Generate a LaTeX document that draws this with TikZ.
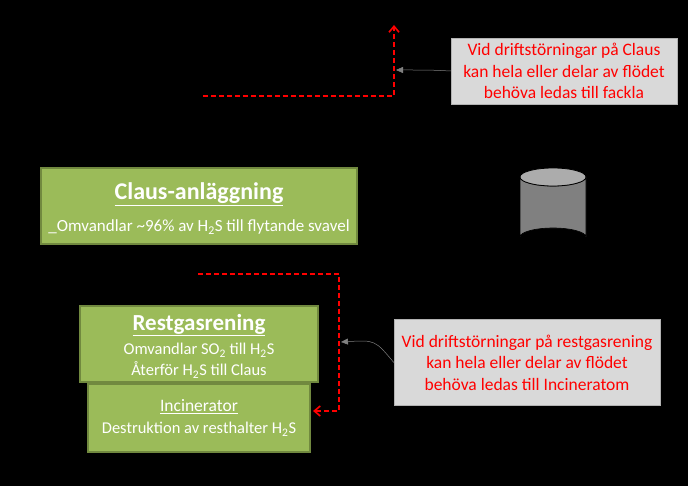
\documentclass[tikz,border=0pt]{standalone}
\usepackage{fontspec}
\setmainfont{Carlito}
\usetikzlibrary{arrows.meta,shapes.geometric}
\definecolor{gbox}{HTML}{9BBB59}
\definecolor{gedge}{HTML}{71893F}
\definecolor{callgray}{HTML}{D9D9D9}
\definecolor{cylg}{HTML}{808080}
\begin{document}
\begin{tikzpicture}[x=1pt,y=-1pt,
  gbox/.style={draw=gedge,line width=2pt,fill=gbox,text=white,align=center,inner sep=0pt},
  callout/.style={draw=gray!60,fill=callgray,text=red,align=center,font=\fontsize{17.5}{21.5}\selectfont,inner sep=0pt},
  reddash/.style={red,line width=1.6pt,dash pattern=on 5pt off 3pt},
  pointer/.style={gray,line width=0.5pt,-{Triangle[length=7pt,width=6pt]}}]
\fill[black] (0,0) rectangle (688,486);
\useasboundingbox (0,0) rectangle (688,486);
\node[gbox,minimum width=316pt,minimum height=76pt] (claus) at (199,206.5) {};
\node[text=white,font=\fontsize{24}{28}\selectfont\bfseries] (clausT) at (199,194) {\underline{Claus-anläggning}};
\node[text=white,font=\fontsize{17}{20}\selectfont] (clausS) at (199,227) {\_Omvandlar \textasciitilde96\% av H\textsubscript{2}S till flytande svavel};
\node[gbox,minimum width=238pt,minimum height=76pt] (rest) at (199,344) {};
\node[text=white,font=\fontsize{23}{27}\selectfont\bfseries] (restT) at (199,325) {\underline{Restgasrening}};
\node[text=white,font=\fontsize{16.5}{21}\selectfont,align=center] (restS) at (199,361) {Omvandlar SO\textsubscript{2} till H\textsubscript{2}S\\Återför H\textsubscript{2}S till Claus};
\node[gbox,minimum width=222pt,minimum height=68pt] (inc) at (199,418) {};
\node[text=white,font=\fontsize{17.5}{21}\selectfont,align=center] (incS) at (199,418) {\underline{Incinerator}\\[1pt]{\fontsize{16.5}{20}\selectfont Destruktion av resthalter H\textsubscript{2}S}};
\coordinate (cyl) at (553,206);
\fill[cylg,draw=black,line width=0.6pt] (520,177) -- (520,237) arc[start angle=180,end angle=360,x radius=33,y radius=9] -- (586,177) arc[start angle=0,end angle=180,x radius=33,y radius=9];
\fill[gray!65,draw=black,line width=0.8pt] (553,177) ellipse[x radius=33,y radius=9];
\node[callout,minimum width=226pt,minimum height=66pt] (c1) at (564,71) {Vid driftstörningar på Claus\\kan hela eller delar av flödet\\behöva ledas till fackla};
\node[callout,minimum width=266pt,minimum height=86pt] (c2) at (527,362.5) {Vid driftstörningar på restgasrening\\kan hela eller delar av flödet\\behöva ledas till Incineratom};
\coordinate (a1) at (203,96);
\coordinate (a2) at (394,96);
\coordinate (a3) at (394,25);
\draw[reddash,-{Straight Barb[length=6pt,width=10pt]}] (a1) -- (a2) -- (a3);
\coordinate (b1) at (198,274);
\coordinate (b2) at (339,274);
\coordinate (b3) at (339,411);
\coordinate (b4) at (313,411);
\draw[reddash,-{Straight Barb[length=6pt,width=10pt]}] (b1) -- (b2) -- (b3) -- (b4);
\coordinate (p1) at (396,70);
\coordinate (q1) at (341,342);
\draw[pointer] (c1.west) .. controls (430,70) .. (p1);
\draw[pointer] (c2.west) .. controls (375,340) .. (q1);
\end{tikzpicture}
\end{document}
